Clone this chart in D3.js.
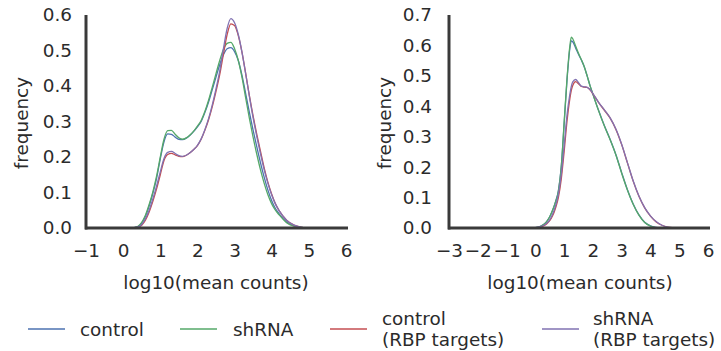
<!DOCTYPE html>
<html>
<head>
<meta charset="utf-8">
<script src="https://cdn.jsdelivr.net/npm/d3@7"></script>
<style>
  html, body { margin: 0; padding: 0; background: #fff; }
  svg { display: block; font-family: "DejaVu Sans", sans-serif; }
</style>
</head>
<body>
<svg id="chart" width="721" height="351"></svg>
<script>
// ---------- data ----------
const seriesNames = ["control", "shRNA", "control\n(RBP targets)", "shRNA\n(RBP targets)"];
const seriesColors = ["#4c72b0", "#55a868", "#c44e52", "#8172b2"];

const leftXTicks = [-1, 0, 1, 2, 3, 4, 5, 6];
const leftYTicks = [0.0, 0.1, 0.2, 0.3, 0.4, 0.5, 0.6];
const rightXTicks = [-3, -2, -1, 0, 1, 2, 3, 4, 5, 6];
const rightYTicks = [0.0, 0.1, 0.2, 0.3, 0.4, 0.5, 0.6, 0.7];

const leftX = [0.0, 0.2, 0.4, 0.5, 0.6, 0.7, 0.8, 0.9, 1.0, 1.1, 1.2, 1.3, 1.4, 1.5, 1.6, 1.7, 1.8, 1.9, 2.0, 2.1, 2.2, 2.3, 2.4, 2.5, 2.6, 2.7, 2.8, 2.9, 3.0, 3.1, 3.2, 3.3, 3.4, 3.5, 3.6, 3.7, 3.8, 3.9, 4.0, 4.1, 4.2, 4.4, 4.6, 4.8, 5.0, 5.2];
const leftControl = [0, 0, 0.004, 0.014, 0.033, 0.062, 0.098, 0.14, 0.195, 0.243, 0.265, 0.264, 0.256, 0.25, 0.249, 0.253, 0.261, 0.272, 0.285, 0.3, 0.325, 0.355, 0.39, 0.425, 0.46, 0.488, 0.505, 0.508, 0.497, 0.472, 0.43, 0.378, 0.325, 0.275, 0.228, 0.183, 0.142, 0.106, 0.077, 0.055, 0.04, 0.017, 0.006, 0.002, 0, 0];
const leftShRNA = [0, 0, 0.005, 0.016, 0.036, 0.066, 0.102, 0.146, 0.2, 0.25, 0.274, 0.275, 0.264, 0.254, 0.25, 0.254, 0.262, 0.273, 0.287, 0.303, 0.328, 0.36, 0.397, 0.435, 0.472, 0.503, 0.52, 0.523, 0.505, 0.472, 0.424, 0.366, 0.308, 0.255, 0.207, 0.163, 0.125, 0.093, 0.068, 0.05, 0.037, 0.015, 0.005, 0.0015, 0, 0];
const leftControlRBP = [0, 0, 0.002, 0.008, 0.022, 0.045, 0.075, 0.11, 0.15, 0.19, 0.207, 0.21, 0.206, 0.202, 0.201, 0.205, 0.212, 0.221, 0.232, 0.25, 0.275, 0.305, 0.342, 0.385, 0.432, 0.49, 0.545, 0.575, 0.57, 0.542, 0.495, 0.435, 0.372, 0.315, 0.263, 0.215, 0.168, 0.128, 0.095, 0.068, 0.049, 0.022, 0.008, 0.002, 0, 0];
const leftShRNARBP = [0, 0, 0.003, 0.01, 0.026, 0.05, 0.082, 0.118, 0.158, 0.196, 0.213, 0.216, 0.21, 0.204, 0.202, 0.205, 0.212, 0.221, 0.233, 0.251, 0.277, 0.308, 0.347, 0.392, 0.442, 0.505, 0.562, 0.59, 0.578, 0.545, 0.495, 0.434, 0.37, 0.31, 0.257, 0.208, 0.163, 0.125, 0.093, 0.068, 0.049, 0.022, 0.008, 0.002, 0, 0];

const rightX = [-0.4, -0.2, 0.0, 0.2, 0.3, 0.4, 0.5, 0.6, 0.7, 0.8, 0.9, 1.0, 1.1, 1.2, 1.25, 1.3, 1.4, 1.5, 1.6, 1.7, 1.8, 1.9, 2.0, 2.2, 2.4, 2.6, 2.8, 3.0, 3.2, 3.4, 3.6, 3.8, 4.0, 4.2, 4.4, 4.6, 4.8, 5.0];
const rightControl = [0, 0, 0.001, 0.006, 0.012, 0.022, 0.037, 0.058, 0.086, 0.122, 0.2, 0.34, 0.485, 0.59, 0.615, 0.612, 0.592, 0.571, 0.552, 0.53, 0.5, 0.468, 0.44, 0.386, 0.336, 0.291, 0.241, 0.182, 0.126, 0.079, 0.043, 0.019, 0.007, 0.002, 0, 0, 0, 0];
const rightShRNA = [0, 0, 0.001, 0.006, 0.012, 0.022, 0.037, 0.058, 0.085, 0.12, 0.2, 0.345, 0.49, 0.598, 0.627, 0.622, 0.598, 0.574, 0.553, 0.53, 0.5, 0.468, 0.44, 0.385, 0.335, 0.29, 0.24, 0.18, 0.125, 0.078, 0.042, 0.018, 0.006, 0.001, 0, 0, 0, 0];
const rightControlRBP = [0, 0, 0.001, 0.004, 0.008, 0.014, 0.024, 0.04, 0.065, 0.1, 0.16, 0.25, 0.35, 0.425, 0.452, 0.468, 0.481, 0.474, 0.465, 0.463, 0.462, 0.454, 0.441, 0.412, 0.387, 0.361, 0.324, 0.274, 0.214, 0.154, 0.104, 0.066, 0.039, 0.02, 0.009, 0.003, 0.001, 0];
const rightShRNARBP = [0, 0, 0.001, 0.005, 0.009, 0.016, 0.027, 0.045, 0.072, 0.11, 0.175, 0.27, 0.37, 0.44, 0.465, 0.48, 0.488, 0.478, 0.466, 0.464, 0.462, 0.455, 0.442, 0.413, 0.388, 0.362, 0.325, 0.275, 0.215, 0.155, 0.105, 0.067, 0.04, 0.021, 0.009, 0.003, 0.001, 0];

// ---------- drawing ----------
const svg = d3.select("#chart");
const textColor = "#2b2b2b";
const axisColor = "#3a3a3a";
const fontSize = 18.4;

function panel(cfg) {
  const x = d3.scaleLinear().domain(cfg.xDomain).range(cfg.xRange);
  const y = d3.scaleLinear().domain(cfg.yDomain).range(cfg.yRange);
  const g = svg.append("g");

  const line = d3.line()
    .x(d => x(d[0]))
    .y(d => y(d[1]))
    .curve(d3.curveMonotoneX);

  cfg.series.forEach((vals, i) => {
    const pts = cfg.xs.map((v, j) => [v, vals[j]]);
    g.append("path")
      .attr("d", line(pts))
      .attr("fill", "none")
      .attr("stroke", seriesColors[i])
      .attr("stroke-width", 1.3);
  });

  // x axis
  const xAxis = d3.axisBottom(x).tickValues(cfg.xTicks).tickFormat(d3.format("d")).tickSize(0).tickPadding(16);
  const gx = g.append("g").attr("transform", `translate(0,${cfg.yRange[0]})`).call(xAxis);
  gx.select(".domain").attr("stroke", axisColor).attr("stroke-width", 3).attr("d", `M${cfg.xRange[0]-1},0H${cfg.xRange[1]+2}`);
  gx.selectAll("text").attr("fill", textColor).attr("font-size", fontSize).attr("font-family", "DejaVu Sans");

  // y axis
  const yAxis = d3.axisLeft(y).tickValues(cfg.yTicks).tickFormat(d3.format(".1f")).tickSize(0).tickPadding(cfg.yPad);
  const gy = g.append("g").attr("transform", `translate(${cfg.xRange[0]},0)`).call(yAxis);
  gy.select(".domain").attr("stroke", axisColor).attr("stroke-width", 3).attr("d", `M0,${cfg.yRange[0]+1.5}V${cfg.yRange[1]}`);
  gy.selectAll("text").attr("fill", textColor).attr("font-size", fontSize).attr("font-family", "DejaVu Sans");

  // labels
  g.append("text")
    .attr("x", cfg.xLabelX).attr("y", 289)
    .attr("text-anchor", "middle")
    .attr("fill", textColor).attr("font-size", fontSize)
    .text("log10(mean counts)");
  g.append("text")
    .attr("transform", `translate(${cfg.yLabelX},123) rotate(-90)`)
    .attr("text-anchor", "middle")
    .attr("fill", textColor).attr("font-size", fontSize)
    .text("frequency");
}

panel({
  xDomain: [-1, 6], xRange: [86, 346],
  yDomain: [0, 0.6], yRange: [228, 15],
  xs: leftX,
  series: [leftControl, leftShRNA, leftControlRBP, leftShRNARBP],
  xTicks: leftXTicks, yTicks: leftYTicks,
  yPad: 14, xLabelX: 216, yLabelX: 28
});

panel({
  xDomain: [-3, 6], xRange: [449, 708],
  yDomain: [0, 0.7], yRange: [228, 15],
  xs: rightX,
  series: [rightControl, rightShRNA, rightControlRBP, rightShRNARBP],
  xTicks: rightXTicks, yTicks: rightYTicks,
  yPad: 17, xLabelX: 580, yLabelX: 391
});

// ---------- legend ----------
const legendLineX = [28, 180, 330, 542];
const legendTextX = [80, 233, 382, 593];
const legend = svg.append("g");
seriesNames.forEach((name, i) => {
  legend.append("line")
    .attr("x1", legendLineX[i]).attr("x2", legendLineX[i] + 37)
    .attr("y1", 329).attr("y2", 329)
    .attr("stroke", seriesColors[i]).attr("stroke-width", 1.3);
  const lines = name.split("\n");
  const t = legend.append("text")
    .attr("fill", textColor).attr("font-size", fontSize);
  lines.forEach((ln, k) => {
    const cy = lines.length === 1 ? 329 : (k === 0 ? 318 : 339);
    t.append("tspan").attr("x", legendTextX[i]).attr("y", cy + 6.5).text(ln);
  });
});
</script>
</body>
</html>
